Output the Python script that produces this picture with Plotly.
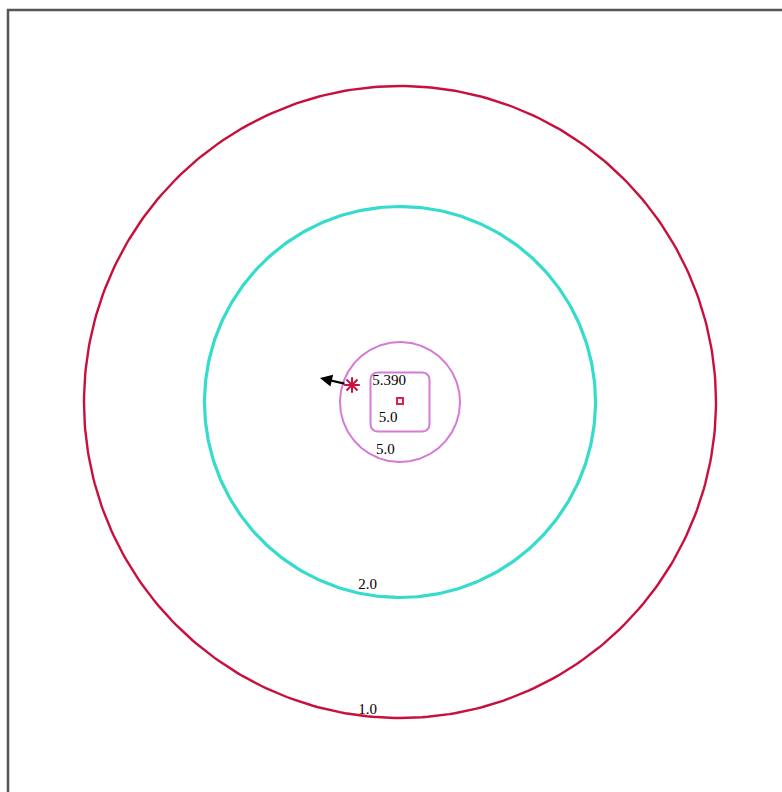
import numpy as np
import plotly.graph_objects as go

# Contour levels and their radii (field units)
levels = [1.0, 2.0, 5.0]
level_labels = ["1.0", "2.0", "5.0"]
radii = [3.16, 1.955, 0.60]
line_colors = ["#c8103c", "#35dccb", "#d67ad6"]
line_widths = [2.4, 3.2, 2.0]

# Inner closed contour (rounded square) at the same 5.0 level
inner_level_label = "5.0"
inner_half = 0.295
inner_corner = 0.07

# Peak of the field and the maximum marker
peak_value = 5.390
peak_x, peak_y = 0.0, 0.01
max_x, max_y = -0.48, 0.17
flow_dx, flow_dy = -0.32, 0.07

fig = go.Figure()

theta = np.linspace(0, 2 * np.pi, 361)
for r, c, w in zip(radii, line_colors, line_widths):
    fig.add_trace(go.Scatter(x=r * np.cos(theta), y=r * np.sin(theta),
                             mode="lines", line=dict(color=c, width=w),
                             hoverinfo="skip", showlegend=False))

# rounded square contour
h, rc = inner_half, inner_corner
sx, sy = [], []
for cx, cy, a0 in [(h - rc, h - rc, 0), (-(h - rc), h - rc, 90),
                   (-(h - rc), -(h - rc), 180), (h - rc, -(h - rc), 270)]:
    t = np.radians(np.linspace(a0, a0 + 90, 12))
    sx += list(cx + rc * np.cos(t))
    sy += list(cy + rc * np.sin(t))
sx.append(sx[0]); sy.append(sy[0])
fig.add_trace(go.Scatter(x=sx, y=sy, mode="lines",
                         line=dict(color=line_colors[2], width=2.0),
                         hoverinfo="skip", showlegend=False))

# peak marker
fig.add_trace(go.Scatter(x=[peak_x], y=[peak_y], mode="markers",
                         marker=dict(symbol="square-open", size=6,
                                     color="#e0204a", line=dict(width=2)),
                         hoverinfo="skip", showlegend=False))
# maximum location star
fig.add_trace(go.Scatter(x=[max_x], y=[max_y], mode="markers",
                         marker=dict(symbol="asterisk-open", size=13,
                                     color="#cc1040", line=dict(width=2, color="#cc1040")),
                         hoverinfo="skip", showlegend=False))

# contour labels
label_angles = [-96, -100, -107]
label_r = [3.10, 1.86, 0.50]
tx = [r * np.cos(np.radians(a)) for r, a in zip(label_r, label_angles)]
ty = [r * np.sin(np.radians(a)) for r, a in zip(label_r, label_angles)]
tx.append(-0.12); ty.append(-0.165)
texts = level_labels + [inner_level_label]
fig.add_trace(go.Scatter(x=tx, y=ty, mode="text", text=texts,
                         textfont=dict(family="Liberation Serif", size=15, color="black"),
                         hoverinfo="skip", showlegend=False))
fig.add_trace(go.Scatter(x=[-0.11], y=[0.21], mode="text", text=[f"{peak_value:.3f}"],
                         textfont=dict(family="Liberation Serif", size=15, color="black"),
                         hoverinfo="skip", showlegend=False))

# flow arrow from the maximum
fig.add_annotation(x=max_x + flow_dx, y=max_y + flow_dy, ax=max_x - 0.06, ay=max_y + 0.01,
                   xref="x", yref="y", axref="x", ayref="y", text="",
                   showarrow=True, arrowhead=2, arrowsize=1.1, arrowwidth=2.2,
                   arrowcolor="black")

# outer frame
fig.add_shape(type="rect", xref="paper", yref="paper",
              x0=8 / 782, x1=1.1, y0=-0.1, y1=1 - 10 / 792,
              line=dict(color="#555555", width=2.5), layer="above")

fig.update_xaxes(range=[-4.00, 3.82], visible=False, showgrid=False, zeroline=False)
fig.update_yaxes(range=[-3.90, 4.02], visible=False, showgrid=False, zeroline=False)
fig.update_layout(width=782, height=792, margin=dict(l=0, r=0, t=0, b=0),
                  paper_bgcolor="white", plot_bgcolor="white")

fig.write_html("out.html")
